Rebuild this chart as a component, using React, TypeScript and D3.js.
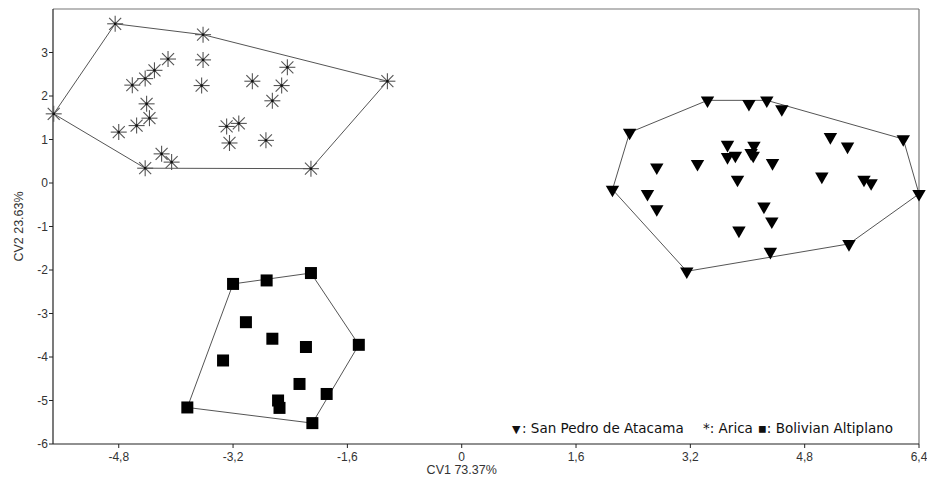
import React from "react";
import * as d3 from "d3";

// San Pedro de Atacama (triangles)
const atacamaX = [2.35, 3.44, 4.02, 4.27, 4.48, 6.18, 6.40, 5.42, 3.15, 2.11,
  3.72, 4.09, 3.72, 3.83, 4.05, 4.08, 4.35, 3.30, 2.73, 3.86, 5.16, 5.40, 5.04, 5.63, 5.73, 2.60, 2.73, 4.23, 4.34, 3.88, 4.32];
const atacamaY = [1.16, 1.90, 1.82, 1.90, 1.70, 1.01, -0.25, -1.40, -2.03, -0.15,
  0.88, 0.86, 0.60, 0.63, 0.69, 0.63, 0.46, 0.44, 0.36, 0.08, 1.06, 0.84, 0.15, 0.08, 0.00, -0.25, -0.60, -0.54, -0.88, -1.09, -1.58];

// Arica (asterisks)
const aricaX = [-4.85, -3.62, -1.04, -2.11, -4.43, -5.71,
  -4.11, -3.62, -4.30, -4.43, -4.61, -3.64, -2.93, -2.44, -2.52, -2.65, -4.41, -4.37, -4.55, -4.80, -3.29, -3.12, -3.25, -2.74, -4.20, -4.06];
const aricaY = [3.66, 3.41, 2.34, 0.33, 0.34, 1.59,
  2.85, 2.83, 2.59, 2.40, 2.25, 2.24, 2.34, 2.66, 2.24, 1.89, 1.82, 1.49, 1.32, 1.17, 1.30, 1.37, 0.92, 0.98, 0.67, 0.48];

// Bolivian Altiplano (squares)
const altiplanoX = [-3.20, -2.73, -2.11, -1.44, -1.89, -2.09, -3.84,
  -3.02, -2.65, -2.18, -3.34, -2.27, -2.57, -2.55];
const altiplanoY = [-2.32, -2.24, -2.07, -3.72, -4.85, -5.52, -5.16,
  -3.20, -3.58, -3.77, -4.08, -4.62, -5.00, -5.17];

const xTicks = [-4.8, -3.2, -1.6, 0, 1.6, 3.2, 4.8, 6.4];
const yTicks = [-6, -5, -4, -3, -2, -1, 0, 1, 2, 3];
const xTitle = "CV1 73.37%";
const yTitle = "CV2 23.63%";
const legendSymbols = ["▼", "*", "▪"];
const legendNames = ["San Pedro de Atacama", "Arica", "Bolivian Altiplano"];

const W = 927, H = 477;
const L = 53, R = 919, T = 9, B = 444;

const x = d3.scaleLinear().domain([-5.72, 6.4]).range([L, R]);
const y = d3.scaleLinear().domain([-6, 4]).range([B, T]);

type P = [number, number];
function pts(xs: number[], ys: number[]): P[] {
  return xs.map((v, i) => [x(v), y(ys[i])] as P);
}

function Hull({ points }: { points: P[] }) {
  const h = d3.polygonHull(points);
  if (!h) return null;
  const line = d3.line<P>().curve(d3.curveLinearClosed);
  return <path d={line(h) || ""} fill="none" stroke="#555" strokeWidth={1} />;
}

const fmt = (v: number) => String(v).replace(".", ",");

export default function App() {
  const at = pts(atacamaX, atacamaY);
  const ar = pts(aricaX, aricaY);
  const al = pts(altiplanoX, altiplanoY);
  const tri = d3.symbol().type(d3.symbolTriangle).size(78)();
  const tickFont = { fontFamily: "Liberation Sans, Arial, sans-serif", fontSize: 12, fill: "#333" };
  const titleFont = { fontFamily: "Liberation Sans, Arial, sans-serif", fontSize: 12.5, fill: "#333" };
  const legFont = { fontFamily: "DejaVu Sans, sans-serif", fontSize: 13.5, fill: "#111" };
  return (
    <svg width={W} height={H} style={{ position: "absolute", left: 0, top: 0, background: "#fff" }}>
      <rect x={0} y={0} width={W} height={H} fill="#fff" />
      {/* frame */}
      <line x1={L} x2={R} y1={T} y2={T} stroke="#777" strokeWidth={1.2} />
      <line x1={R} x2={R} y1={T} y2={B} stroke="#777" strokeWidth={1.2} />
      <line x1={L} x2={L} y1={T} y2={B} stroke="#222" strokeWidth={1.2} />
      <line x1={L} x2={R} y1={B} y2={B} stroke="#222" strokeWidth={1.2} />
      {/* hulls */}
      <Hull points={ar} />
      <Hull points={at} />
      <Hull points={al} />
      {/* asterisks */}
      {ar.map(([px, py], i) => (
        <g key={"a" + i} transform={`translate(${px},${py})`} stroke="#555" strokeWidth={1.1}>
          <line x1={-8} x2={8} y1={0} y2={0} />
          <line x1={0} x2={0} y1={-8} y2={8} />
          <line x1={-6} x2={6} y1={-6} y2={6} />
          <line x1={-6} x2={6} y1={6} y2={-6} />
          <rect x={-1.2} y={-1.2} width={2.4} height={2.4} fill="#111" stroke="none" />
        </g>
      ))}
      {/* triangles */}
      {at.map(([px, py], i) => (
        <path key={"t" + i} d={tri || ""} transform={`translate(${px},${py}) rotate(180)`} fill="#000" />
      ))}
      {/* squares */}
      {al.map(([px, py], i) => (
        <rect key={"s" + i} x={px - 6} y={py - 6} width={12} height={12} fill="#000" />
      ))}
      {/* x axis */}
      {xTicks.map((t) => (
        <g key={"xt" + t}>
          <line x1={x(t)} x2={x(t)} y1={B} y2={B + 4} stroke="#222" />
          <text x={x(t)} y={461} textAnchor="middle" {...tickFont}>{fmt(t)}</text>
        </g>
      ))}
      {yTicks.map((t) => (
        <g key={"yt" + t}>
          <line x1={L - 4} x2={L} y1={y(t)} y2={y(t)} stroke="#222" />
          <text x={L - 5} y={y(t) + 4} textAnchor="end" {...tickFont}>{t}</text>
        </g>
      ))}
      <text x={x(0)} y={474} textAnchor="middle" {...titleFont}>{xTitle}</text>
      <text transform={`translate(23,${(T + B) / 2}) rotate(-90)`} textAnchor="middle" {...titleFont}>{yTitle}</text>
      {/* legend */}
      <text x={512} y={433} {...legFont} fontSize={11}>{legendSymbols[0]}</text>
      <text x={522} y={433} {...legFont}>{": " + legendNames[0]}</text>
      <text x={703} y={433} {...legFont} xmlSpace="preserve">{legendSymbols[1] + ": " + legendNames[1]}</text>
      <text x={893} y={433} textAnchor="end" {...legFont} xmlSpace="preserve">{legendSymbols[2] + ": " + legendNames[2]}</text>
    </svg>
  );
}
